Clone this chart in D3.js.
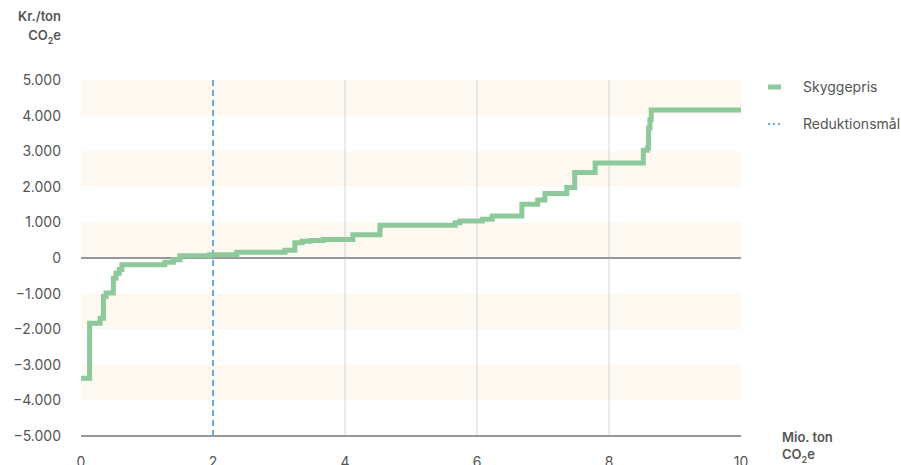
<!DOCTYPE html>
<html>
<head>
<meta charset="utf-8">
<script src="https://cdn.jsdelivr.net/npm/d3@7"></script>
<style>
  body { margin: 0; background: #fff; }
  text { font-family: Inter, "Noto Sans", sans-serif; fill: #555; }
</style>
</head>
<body>
<script>
// Skyggepris (kr./ton CO2e) as a step curve over cumulative reduction (mio. ton CO2e)
var mioTon = [0, 0.13, 0.29, 0.34, 0.38, 0.49, 0.53, 0.58, 0.62, 1.27, 1.40, 1.50, 1.95,
              2.36, 3.09, 3.24, 3.35, 3.47, 3.67, 4.12, 4.53, 5.67, 5.74, 6.08, 6.23,
              6.68, 6.92, 7.03, 7.36, 7.48, 7.79, 8.52, 8.58, 8.60, 8.62, 8.64, 10];
var skyggepris = [-3380, -1830, -1690, -1080, -980, -570, -430, -320, -190, -120, -50, 60, 90,
                  165, 220, 430, 470, 490, 520, 650, 920, 990, 1040, 1090, 1180,
                  1510, 1630, 1810, 1980, 2400, 2670, 3030, 3090, 3650, 3880, 4160, 4160];
var reduktionsmaal = 2;
var xTicks = [0, 2, 4, 6, 8, 10];
var yTicks = [5000, 4000, 3000, 2000, 1000, 0, -1000, -2000, -3000, -4000, -5000];
var bands = [[4000, 5000], [2000, 3000], [0, 1000], [-2000, -1000], [-4000, -3000]];

var width = 901, height = 465,
    margin = { top: 80, right: 160, bottom: 29, left: 81 };

var svg = d3.select('body').append('svg')
  .attr('width', width)
  .attr('height', height);

var x = d3.scaleLinear().domain([0, 10]).range([margin.left, width - margin.right]);
var y = d3.scaleLinear().domain([-5000, 5000]).range([height - margin.bottom, margin.top]);

var fmt = function (d) { return d3.format(',')(d).replace(/,/g, '.'); };

// shaded bands
svg.append('g').selectAll('rect').data(bands).join('rect')
  .attr('x', x(0))
  .attr('width', x(10) - x(0))
  .attr('y', function (d) { return y(d[1]); })
  .attr('height', function (d) { return y(d[0]) - y(d[1]); })
  .attr('fill', '#fdf9f1');

// vertical gridlines
svg.append('g').selectAll('line').data([4, 6, 8]).join('line')
  .attr('x1', function (d) { return x(d); })
  .attr('x2', function (d) { return x(d); })
  .attr('y1', y(5000))
  .attr('y2', y(-5000))
  .attr('stroke', '#d4d4d4')
  .attr('stroke-width', 1);

// zero line and bottom axis line
svg.append('g').selectAll('line').data([0, -5000]).join('line')
  .attr('x1', x(0))
  .attr('x2', x(10))
  .attr('y1', function (d) { return y(d); })
  .attr('y2', function (d) { return y(d); })
  .attr('stroke', '#999')
  .attr('stroke-width', 2);

// y tick labels
svg.append('g').selectAll('text').data(yTicks).join('text')
  .attr('x', 61)
  .attr('y', function (d) { return y(d) + 5; })
  .attr('text-anchor', 'end')
  .attr('font-size', 14)
  .text(fmt);

// x tick labels (cut off at the bottom edge, as in the original)
svg.append('g').selectAll('text').data(xTicks).join('text')
  .attr('x', function (d) { return x(d); })
  .attr('y', 467)
  .attr('text-anchor', 'middle')
  .attr('font-size', 14)
  .text(function (d) { return d; });

// reduction target
svg.append('line')
  .attr('x1', x(reduktionsmaal))
  .attr('x2', x(reduktionsmaal))
  .attr('y1', y(5000))
  .attr('y2', y(-5000))
  .attr('stroke', '#68ade2')
  .attr('stroke-width', 2)
  .attr('stroke-dasharray', '6,4');

// shadow price step curve
var line = d3.line()
  .x(function (d, i) { return x(mioTon[i]); })
  .y(function (d) { return y(d); })
  .curve(d3.curveStepAfter);

svg.append('path')
  .datum(skyggepris)
  .attr('d', line)
  .attr('fill', 'none')
  .attr('stroke', '#8dc99b')
  .attr('stroke-width', 5);

// axis titles
function co2e(sel) {
  sel.append('tspan').text('CO');
  sel.append('tspan').attr('font-size', 9).attr('dy', 4).text('2');
  sel.append('tspan').attr('dy', -4).text('e');
}
svg.append('text').attr('x', 61).attr('y', 21).attr('text-anchor', 'end')
  .attr('font-size', 13).attr('font-weight', 600).text('Kr./ton');
svg.append('text').attr('x', 61).attr('y', 40).attr('text-anchor', 'end')
  .attr('font-size', 13).attr('font-weight', 600).call(co2e);
svg.append('text').attr('x', 782).attr('y', 442)
  .attr('font-size', 13).attr('font-weight', 600).text('Mio. ton');
svg.append('text').attr('x', 782).attr('y', 459)
  .attr('font-size', 13).attr('font-weight', 600).call(co2e);

// legend
svg.append('line').attr('x1', 768).attr('x2', 781).attr('y1', 87).attr('y2', 87)
  .attr('stroke', '#8dc99b').attr('stroke-width', 5);
svg.append('text').attr('x', 803).attr('y', 92).attr('font-size', 14).text('Skyggepris');
svg.append('line').attr('x1', 768).attr('x2', 781).attr('y1', 124).attr('y2', 124)
  .attr('stroke', '#68ade2').attr('stroke-width', 2).attr('stroke-dasharray', '2,3');
svg.append('text').attr('x', 803).attr('y', 129).attr('font-size', 14).text('Reduktionsmål');
</script>
</body>
</html>
